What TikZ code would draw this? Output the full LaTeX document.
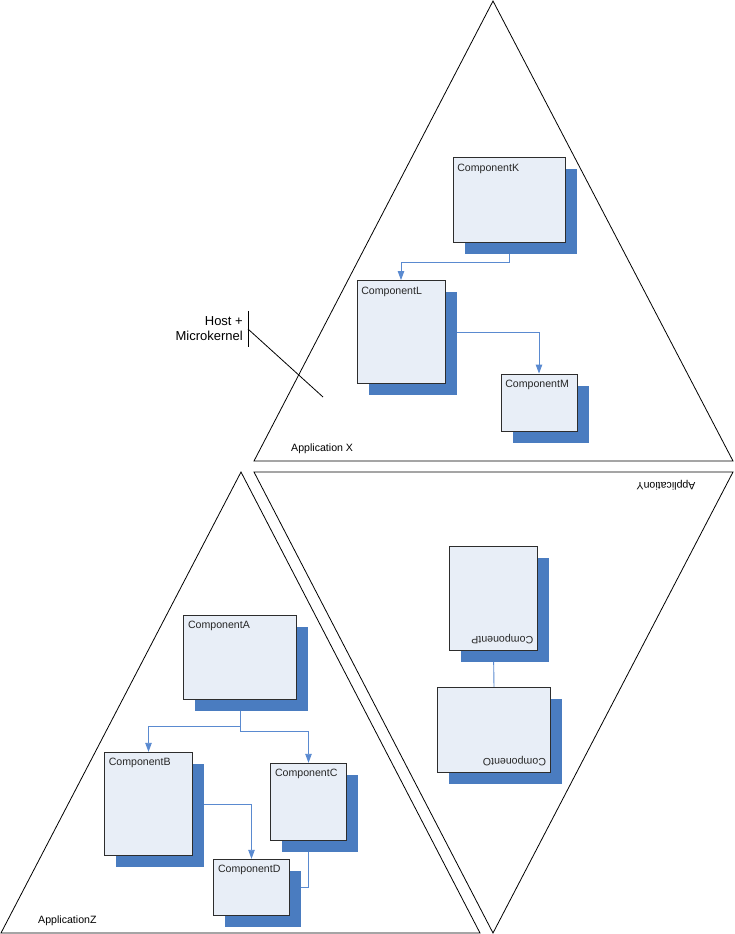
\documentclass[tikz,border=0pt]{standalone}
\usepackage{fontspec}
\setmainfont{Liberation Sans}
\usetikzlibrary{arrows.meta,shadows,backgrounds}
\definecolor{boxfill}{RGB}{232,238,247}
\definecolor{shadowblue}{RGB}{74,124,192}
\definecolor{linkblue}{RGB}{90,138,208}
\definecolor{boxline}{RGB}{45,45,45}
\begin{document}
\begin{tikzpicture}[x=1pt,y=-1pt,
    comp/.style={rectangle,draw=boxline,line width=0.9pt,fill=boxfill,inner sep=0pt,
      general shadow={fill=shadowblue,draw=none,shadow xshift=11.5pt,shadow yshift=-11.5pt}},
    title/.style={inner xsep=4.5pt,inner ysep=6.5pt,font=\fontsize{10.6}{12.7}\selectfont,text=black!85},
    link/.style={draw=linkblue,line width=0.9pt},
    arr/.style={link,-{Triangle[length=9pt,width=6.5pt]}},
    app/.style={draw=black,line width=0.8pt}]

   \useasboundingbox (0,0) rectangle (734,934);

   % the three applications
   \draw[app] (493,1) -- (254,461) -- (733,461) -- cycle;
   \draw[app] (254,472) -- (733,472) -- (493,933) -- cycle;
   \draw[app] (241,472) -- (1,933) -- (480,933) -- cycle;

   \node[inner sep=0pt,font=\fontsize{10.6}{12.7}\selectfont,anchor=west] (appx) at (291,449) {Application X};
   \node[inner sep=0pt,font=\fontsize{10.6}{12.7}\selectfont,rotate=180] (appy) at (666,485) {ApplicationY};
   \node[inner sep=0pt,font=\fontsize{10.6}{12.7}\selectfont,anchor=west] (appz) at (38,921) {ApplicationZ};

   % host
   \node[inner xsep=0pt,inner ysep=6pt,align=right,anchor=east,
     font=\fontsize{13}{15}\selectfont] (host) at (243,329) {Host +\\Microkernel};
   \coordinate (hostpt) at (323,397);
   \draw[line width=0.8pt] ([xshift=5pt]host.north east) -- ([xshift=5pt]host.south east);
   \draw[line width=0.8pt] ([xshift=5pt]host.east) -- (hostpt);

   % application X
   \node[comp,minimum width=112pt,minimum height=85pt] (K) at (509,200) {};
   \node[comp,minimum width=88pt,minimum height=103pt] (L) at (401,332) {};
   \node[comp,minimum width=76pt,minimum height=57pt] (M) at (539,402.5) {};
   \node[title,anchor=north west] (Kt) at (K.north west) {ComponentK};
   \node[title,anchor=north west] (Lt) at (L.north west) {ComponentL};
   \node[title,anchor=north west] (Mt) at (M.north west) {ComponentM};

   % application Y
   \node[comp,minimum width=88pt,minimum height=103.5pt] (P) at (493.5,598.5) {};
   \node[comp,minimum width=112.5pt,minimum height=84.5pt] (O) at (494,730) {};
   \node[title,rotate=180,anchor=north west] (Pt) at (P.south east) {ComponentP};
   \node[title,rotate=180,anchor=north west] (Ot) at (O.south east) {ComponentO};

   % application Z
   \node[comp,minimum width=112.5pt,minimum height=84pt] (A) at (240,657) {};
   \node[comp,minimum width=88pt,minimum height=103.5pt] (B) at (148.5,804) {};
   \node[comp,minimum width=75.5pt,minimum height=77.5pt] (C) at (308.5,802) {};
   \node[comp,minimum width=75.5pt,minimum height=56.5pt] (D) at (251.5,887.5) {};
   \node[title,anchor=north west] (At) at (A.north west) {ComponentA};
   \node[title,anchor=north west] (Bt) at (B.north west) {ComponentB};
   \node[title,anchor=north west] (Ct) at (C.north west) {ComponentC};
   \node[title,anchor=north west] (Dt) at (D.north west) {ComponentD};

   \begin{pgfonlayer}{background}
     \draw[arr] (K.south) -- ++(0,19) -| (L.north);
     \draw[arr] (L.east) -| (M.north);
     \draw[link] (P.south) -- (O.north);
     \draw[arr] (A.south) -- ++(0,26.5) -| (B.north);
     \draw[arr] (A.south) -- ++(0,32) -| (C.north);
     \draw[arr] (B.east) -| (D.north);
     \draw[link] (C.south) |- (D.east);
   \end{pgfonlayer}
\end{tikzpicture}
\end{document}
